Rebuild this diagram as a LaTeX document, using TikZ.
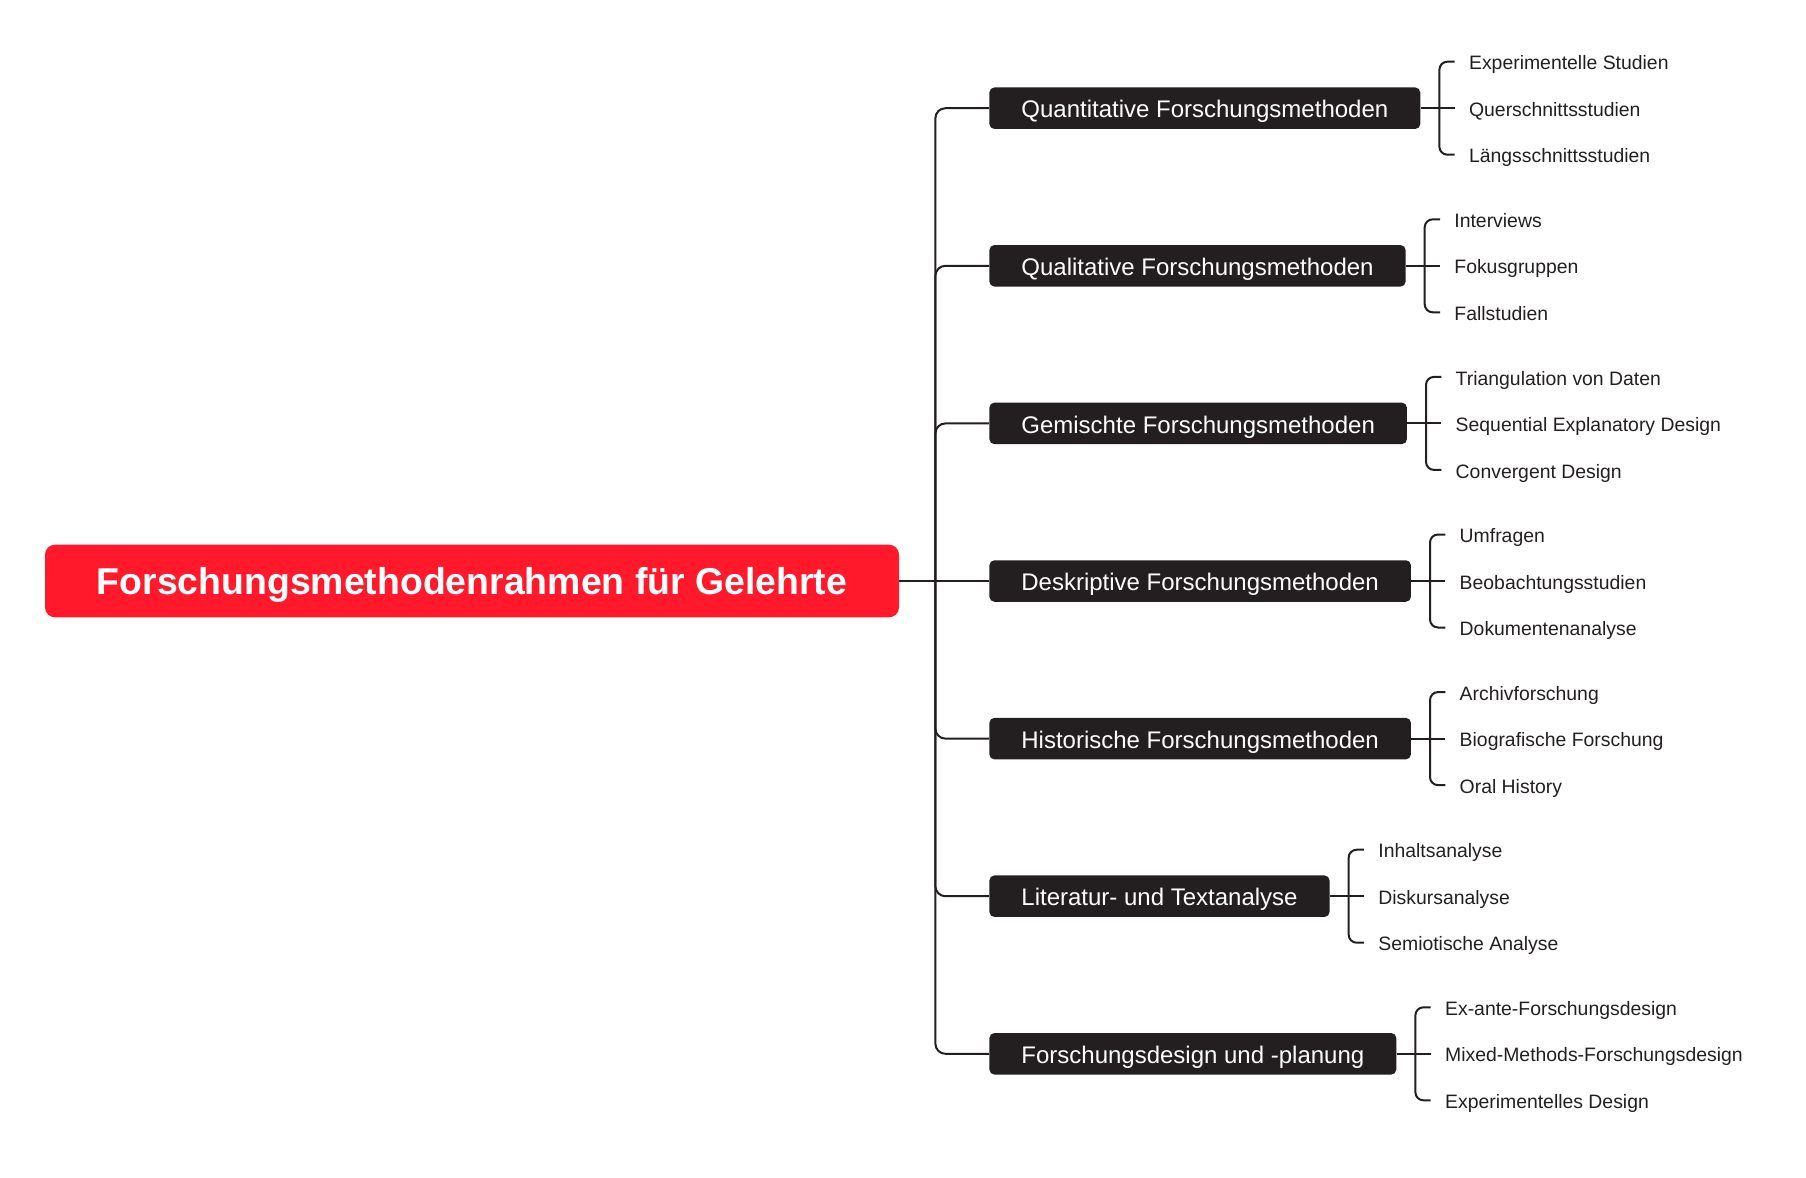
\documentclass[tikz,border=0pt]{standalone}
\usepackage{fontspec}
\setmainfont{Liberation Sans}
\usetikzlibrary{positioning}
\definecolor{rootred}{RGB}{255,25,43}
\definecolor{boxdark}{RGB}{35,31,32}

\begin{document}
\begin{tikzpicture}[x=0.5pt,y=-0.5pt,
    rootbox/.style={fill=rootred, text=white, rounded corners=5pt, minimum width=427pt, minimum height=36.3pt,
        font=\fontsize{18.7pt}{22pt}\selectfont\bfseries, text height=13.4pt, text depth=0pt},
    methbox/.style={anchor=west, fill=boxdark, text=white, rounded corners=2.5pt, minimum height=20.75pt,
        inner xsep=16pt, font=\fontsize{12pt}{14pt}\selectfont, text height=9.7pt, text depth=0pt},
    item/.style={inner xsep=7pt, inner ysep=0pt, text=boxdark, font=\fontsize{9.7pt}{12pt}\selectfont,
        text height=8.1pt, text depth=0pt},
    link/.style={draw=boxdark, line width=1pt}]
    \useasboundingbox (0,0) rectangle (1806,1178);

    \node (root) at (472,581) [rootbox] {Forschungsmethodenrahmen für Gelehrte};

    \node (quan) at (989,108.2) [methbox] {Quantitative Forschungsmethoden};
    \node (qual) at (989,265.8) [methbox] {Qualitative Forschungsmethoden};
    \node (gem) at (989,423.4) [methbox] {Gemischte Forschungsmethoden};
    \node (desk) at (989,581) [methbox] {Deskriptive Forschungsmethoden};
    \node (hist) at (989,738.6) [methbox] {Historische Forschungsmethoden};
    \node (lit) at (989,896.2) [methbox] {Literatur- und Textanalyse};
    \node (fd) at (989,1053.8) [methbox] {Forschungsdesign und -planung};

    % Unterpunkte
    \node (quan-1) [item, right=17pt of quan, yshift=23.25pt] {Experimentelle Studien};
    \node (quan-2) [item, right=17pt of quan] {Querschnittsstudien};
    \node (quan-3) [item, right=17pt of quan, yshift=-23.25pt] {Längsschnittsstudien};

    \node (qual-1) [item, right=17pt of qual, yshift=23.25pt] {Interviews};
    \node (qual-2) [item, right=17pt of qual] {Fokusgruppen};
    \node (qual-3) [item, right=17pt of qual, yshift=-23.25pt] {Fallstudien};

    \node (gem-1) [item, right=17pt of gem, yshift=23.25pt] {Triangulation von Daten};
    \node (gem-2) [item, right=17pt of gem] {Sequential Explanatory Design};
    \node (gem-3) [item, right=17pt of gem, yshift=-23.25pt] {Convergent Design};

    \node (desk-1) [item, right=17pt of desk, yshift=23.25pt] {Umfragen};
    \node (desk-2) [item, right=17pt of desk] {Beobachtungsstudien};
    \node (desk-3) [item, right=17pt of desk, yshift=-23.25pt] {Dokumentenanalyse};

    \node (hist-1) [item, right=17pt of hist, yshift=23.25pt] {Archivforschung};
    \node (hist-2) [item, right=17pt of hist] {Biografische Forschung};
    \node (hist-3) [item, right=17pt of hist, yshift=-23.25pt] {Oral History};

    \node (lit-1) [item, right=17pt of lit, yshift=23.25pt] {Inhaltsanalyse};
    \node (lit-2) [item, right=17pt of lit] {Diskursanalyse};
    \node (lit-3) [item, right=17pt of lit, yshift=-23.25pt] {Semiotische Analyse};

    \node (fd-1) [item, right=17pt of fd, yshift=23.25pt] {Ex-ante-Forschungsdesign};
    \node (fd-2) [item, right=17pt of fd] {Mixed-Methods-Forschungsdesign};
    \node (fd-3) [item, right=17pt of fd, yshift=-23.25pt] {Experimentelles Design};

    % Verbindungen
    \coordinate [right=18pt of root] (trunk);
    \draw[link] (root) -- (desk);
    \foreach \m in {quan,qual,gem,hist,lit,fd}
        \draw[link, rounded corners=5pt] (trunk) |- (\m.west);

    \foreach \m in {quan,qual,gem,desk,hist,lit,fd} {
        \coordinate [right=9.35pt of \m] (\m-j);
        \draw[link] (\m) -- (\m-2);
        \draw[link, rounded corners=4pt] (\m-j) |- (\m-1.west);
        \draw[link, rounded corners=4pt] (\m-j) |- (\m-3.west);
    }
\end{tikzpicture}
\end{document}
